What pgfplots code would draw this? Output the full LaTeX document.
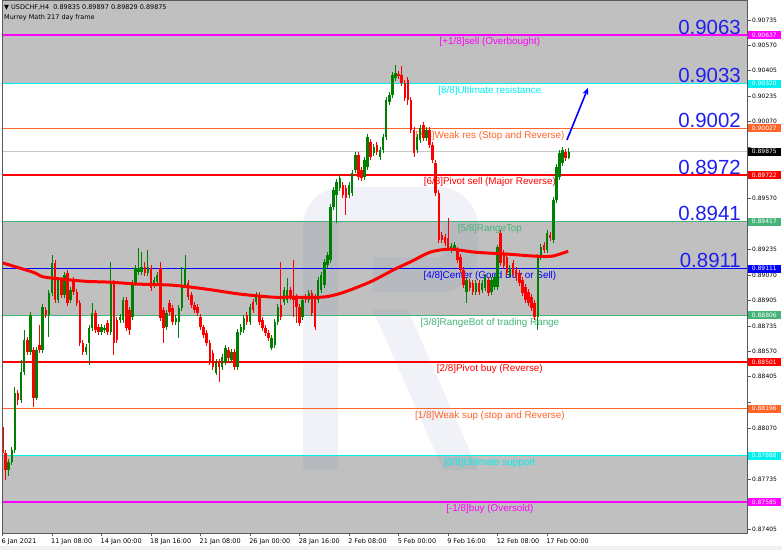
\documentclass[border=0pt]{standalone}
\usepackage{pgfplots}
\pgfplotsset{compat=1.18}
\usepackage{pgfplotstable}
\usepackage{fontspec}
\setmainfont{DejaVu Sans}
\newfontfamily\arialf{Liberation Sans}
\usetikzlibrary{arrows.meta}

\definecolor{cgreen}{RGB}{0,128,0}
\definecolor{cred}{RGB}{255,0,0}
\definecolor{silverbg}{RGB}{192,192,192}
\definecolor{lmag}{RGB}{255,0,255}
\definecolor{lcyan}{RGB}{0,240,240}
\definecolor{lorange}{RGB}{255,100,40}
\definecolor{lgreen}{RGB}{70,180,120}
\definecolor{lblue}{RGB}{0,0,255}
\definecolor{bignum}{RGB}{30,30,240}
\definecolor{wmark}{RGB}{90,120,170}

% H4 candles: bar index, open, high, low, close
\pgfplotstableread{
i o h l c
0 0.88076 0.88200 0.87893 0.87906
1 0.87906 0.87925 0.87729 0.87795
2 0.87795 0.87866 0.87755 0.87847
3 0.87847 0.87945 0.87827 0.87925
4 0.87925 0.88337 0.87906 0.88298
5 0.88298 0.88317 0.88219 0.88252
6 0.88252 0.88513 0.88232 0.88435
7 0.88435 0.88709 0.88415 0.88644
8 0.88644 0.88664 0.88546 0.88566
9 0.88566 0.88827 0.88546 0.88808
10 0.88579 0.88598 0.88206 0.88265
11 0.88265 0.88598 0.88252 0.88579
12 0.88611 0.88742 0.88559 0.88579
13 0.88579 0.88879 0.88559 0.88860
14 0.88840 0.88860 0.88788 0.88808
15 0.88808 0.88971 0.88664 0.88951
16 0.88951 0.89200 0.88932 0.89147
17 0.89147 0.89167 0.88886 0.88906
18 0.88906 0.89056 0.88886 0.89036
19 0.89036 0.89056 0.88919 0.88938
20 0.88938 0.89088 0.88919 0.89069
21 0.89082 0.89102 0.88866 0.88886
22 0.88906 0.88990 0.88886 0.88971
23 0.89036 0.89056 0.88938 0.88958
24 0.88958 0.88977 0.88866 0.88886
25 0.88886 0.88906 0.88605 0.88625
26 0.88625 0.88644 0.88546 0.88566
27 0.88566 0.88618 0.88546 0.88598
28 0.88625 0.88742 0.88481 0.88723
29 0.88723 0.88886 0.88703 0.88821
30 0.88821 0.88840 0.88690 0.88709
31 0.88729 0.88749 0.88677 0.88696
32 0.88696 0.88749 0.88677 0.88729
33 0.88709 0.88742 0.88690 0.88723
34 0.88755 0.88775 0.88677 0.88696
35 0.88696 0.89154 0.88677 0.89017
36 0.89017 0.89036 0.88546 0.88625
37 0.88775 0.88794 0.88625 0.88644
38 0.88775 0.88814 0.88755 0.88794
39 0.88775 0.88925 0.88755 0.88906
40 0.88906 0.88925 0.88703 0.88723
41 0.88840 0.88860 0.88677 0.88709
42 0.88794 0.89036 0.88775 0.89017
43 0.89017 0.89134 0.88997 0.89115
44 0.89088 0.89245 0.89069 0.89115
45 0.89088 0.89219 0.89069 0.89121
46 0.89121 0.89154 0.89062 0.89082
47 0.89082 0.89232 0.89062 0.89121
48 0.89115 0.89134 0.88964 0.88984
49 0.89004 0.89056 0.88984 0.89036
50 0.89023 0.89088 0.89004 0.89069
51 0.89115 0.89154 0.88768 0.88788
52 0.88840 0.88860 0.88625 0.88723
53 0.88729 0.88840 0.88709 0.88821
54 0.88886 0.88906 0.88808 0.88827
55 0.88853 0.88873 0.88742 0.88762
56 0.88762 0.88808 0.88742 0.88788
57 0.88762 0.88873 0.88657 0.88853
58 0.88853 0.89121 0.88834 0.89004
59 0.89004 0.89200 0.88984 0.89115
60 0.89017 0.89036 0.88906 0.88925
61 0.88938 0.88958 0.88853 0.88873
62 0.88873 0.88892 0.88821 0.88840
63 0.88860 0.88879 0.88801 0.88821
64 0.88794 0.88814 0.88709 0.88729
65 0.88729 0.88742 0.88657 0.88677
66 0.88690 0.88709 0.88605 0.88625
67 0.88625 0.88644 0.88481 0.88500
68 0.88559 0.88579 0.88448 0.88468
69 0.88428 0.88520 0.88415 0.88500
70 0.88500 0.88520 0.88370 0.88468
71 0.88468 0.88553 0.88448 0.88533
72 0.88500 0.88611 0.88481 0.88592
73 0.88579 0.88598 0.88507 0.88526
74 0.88513 0.88585 0.88494 0.88566
75 0.88566 0.88585 0.88448 0.88468
76 0.88468 0.88716 0.88448 0.88696
77 0.88696 0.88749 0.88677 0.88729
78 0.88709 0.88808 0.88690 0.88788
79 0.88808 0.88827 0.88742 0.88762
80 0.88762 0.88879 0.88742 0.88860
81 0.88892 0.88912 0.88821 0.88840
82 0.88892 0.88958 0.88873 0.88938
83 0.88938 0.88958 0.88742 0.88762
84 0.88775 0.88794 0.88703 0.88723
85 0.88723 0.88742 0.88670 0.88690
86 0.88690 0.88709 0.88638 0.88657
87 0.88592 0.88677 0.88579 0.88657
88 0.88611 0.88781 0.88592 0.88762
89 0.88762 0.88879 0.88742 0.88860
90 0.88873 0.89154 0.88775 0.88794
91 0.88892 0.88990 0.88873 0.88971
92 0.88906 0.89049 0.88886 0.88971
93 0.88971 0.88990 0.88906 0.88925
94 0.88925 0.89167 0.88794 0.88906
95 0.88925 0.88945 0.88755 0.88860
96 0.88860 0.88879 0.88736 0.88755
97 0.88794 0.88925 0.88775 0.88906
98 0.88925 0.88945 0.88886 0.88906
99 0.88906 0.88971 0.88886 0.88951
100 0.88951 0.88971 0.88801 0.88821
101 0.88925 0.88945 0.88709 0.88729
102 0.88906 0.89056 0.88886 0.89036
103 0.88971 0.89088 0.88951 0.89069
104 0.89004 0.89173 0.88984 0.89154
105 0.89134 0.89219 0.89115 0.89200
106 0.89167 0.89533 0.89147 0.89513
107 0.89513 0.89644 0.89494 0.89624
108 0.89592 0.89696 0.89409 0.89677
109 0.89637 0.89722 0.89618 0.89703
110 0.89657 0.89677 0.89572 0.89592
111 0.89637 0.89657 0.89461 0.89572
112 0.89592 0.89677 0.89572 0.89657
113 0.89605 0.89755 0.89585 0.89735
114 0.89755 0.89873 0.89735 0.89853
115 0.89853 0.89873 0.89690 0.89709
116 0.89755 0.89775 0.89683 0.89703
117 0.89709 0.89840 0.89690 0.89820
118 0.89775 0.89990 0.89755 0.89971
119 0.89938 0.89958 0.89820 0.89840
120 0.89866 0.89925 0.89847 0.89905
121 0.89918 0.89938 0.89853 0.89873
122 0.89840 0.89905 0.89820 0.89886
123 0.89886 0.89990 0.89866 0.89971
124 0.89971 0.90232 0.89951 0.90213
125 0.90199 0.90265 0.90180 0.90245
126 0.90245 0.90395 0.90226 0.90376
127 0.90356 0.90441 0.90337 0.90389
128 0.90382 0.90402 0.90350 0.90369
129 0.90376 0.90435 0.90304 0.90324
130 0.90324 0.90343 0.90206 0.90226
131 0.90343 0.90363 0.90180 0.90213
132 0.90213 0.90232 0.89997 0.90016
133 0.90016 0.90036 0.89840 0.89866
134 0.89886 0.89990 0.89866 0.89971
135 0.89951 0.90049 0.89932 0.90030
136 0.90049 0.90069 0.89945 0.89964
137 0.89964 0.90036 0.89945 0.90016
138 0.90016 0.90036 0.89899 0.89918
139 0.89918 0.89938 0.89801 0.89820
140 0.89801 0.89820 0.89585 0.89605
141 0.89605 0.89624 0.89278 0.89298
142 0.89330 0.89350 0.89278 0.89298
143 0.89317 0.89337 0.89258 0.89278
144 0.89311 0.89441 0.89226 0.89245
145 0.89232 0.89278 0.89213 0.89258
146 0.89245 0.89285 0.89226 0.89265
147 0.89232 0.89252 0.89147 0.89167
148 0.89187 0.89206 0.89082 0.89102
149 0.89102 0.89121 0.88984 0.89004
150 0.88958 0.89056 0.88886 0.89036
151 0.89023 0.89043 0.88964 0.88984
152 0.89017 0.89036 0.88938 0.88958
153 0.88958 0.89036 0.88938 0.89017
154 0.89017 0.89036 0.88938 0.88958
155 0.88971 0.89036 0.88951 0.89017
156 0.88984 0.89075 0.88964 0.89056
157 0.89036 0.89056 0.88932 0.88951
158 0.88958 0.89056 0.88938 0.89036
159 0.88990 0.89075 0.88971 0.89056
160 0.88990 0.89265 0.88971 0.89252
161 0.89343 0.89363 0.89128 0.89147
162 0.89213 0.89232 0.89108 0.89128
163 0.89187 0.89206 0.89062 0.89082
164 0.89069 0.89134 0.89049 0.89115
165 0.89147 0.89167 0.89062 0.89082
166 0.89102 0.89121 0.89030 0.89049
167 0.89082 0.89102 0.88997 0.89017
168 0.89036 0.89056 0.88932 0.88951
169 0.88990 0.89010 0.88886 0.88906
170 0.88958 0.88977 0.88866 0.88886
171 0.88925 0.88945 0.88834 0.88853
172 0.88886 0.88906 0.88775 0.88794
173 0.88794 0.89206 0.88709 0.89187
174 0.89187 0.89271 0.89167 0.89252
175 0.89265 0.89285 0.89213 0.89232
176 0.89232 0.89363 0.89213 0.89343
177 0.89330 0.89350 0.89291 0.89311
178 0.89298 0.89579 0.89278 0.89559
179 0.89559 0.89794 0.89539 0.89775
180 0.89709 0.89886 0.89690 0.89866
181 0.89801 0.89905 0.89781 0.89886
182 0.89873 0.89892 0.89814 0.89833
183 0.89835 0.89897 0.89829 0.89875
}\candles

\tikzset{
  lvl/.style={anchor=north, inner sep=0pt, yshift=-2.5bp, font=\arialf\fontsize{9.9}{11}\selectfont},
  big/.style={anchor=base east, inner sep=0pt, yshift=1bp, text=bignum, font=\arialf\fontsize{20.5}{22}\selectfont},
  pbox/.style={anchor=west, xshift=0.6bp, minimum width=33bp, minimum height=8bp, inner sep=0pt, text=white, font=\fontsize{6}{7}\selectfont},
}

\begin{document}
\begin{tikzpicture}[x=1bp,y=1bp]
\path[use as bounding box] (-2,-17) rectangle (780,533);
\fill[white] (-2,-17) rectangle (780,533);
\fill[black!6] (-2,-17) rectangle (780,-13.5);

\begin{axis}[
    at={(0,0)}, anchor=south west,
    scale only axis, width=745bp, height=533bp,
    xmin=-0.16, xmax=240.6,
    ymin=0.87383, ymax=0.90866,
    axis on top,
    axis line style={draw=black!65, line width=0.8bp},
    tick align=outside, major tick length=3.5bp,
    tick style={draw=black!65, line width=0.6bp},
    xtick pos=left, ytick pos=right, yticklabel pos=right,
    xtick={0,16,...,176},
    xticklabels={6 Jan 2021, 11 Jan 08:00, 14 Jan 00:00, 18 Jan 16:00, 21 Jan 08:00, 26 Jan 00:00, 28 Jan 16:00, 2 Feb 08:00, 5 Feb 00:00, 9 Feb 16:00, 12 Feb 08:00, 17 Feb 00:00},
    xticklabel style={font=\fontsize{6.5}{7}\selectfont, anchor=north west, inner sep=0pt, xshift=-1bp, yshift=-1.5bp},
    ytick={0.90735,0.90570,0.90405,0.90235,0.90070,0.89905,0.89740,0.89570,0.89400,0.89235,0.89070,0.88905,0.88735,0.88570,0.88405,0.88235,0.88070,0.87905,0.87735,0.87570,0.87405},
    yticklabels={0.90735,0.90570,0.90405,0.90235,0.90070,,,0.89570,,0.89235,0.89070,0.88905,0.88735,0.88570,0.88405,,0.88070,,0.87735,,0.87405},
    yticklabel style={font=\fontsize{6}{7}\selectfont, anchor=west, inner sep=0pt, xshift=1.5bp},
]

% Murrey bands
\fill[silverbg] (axis cs:-1,0.9100) rectangle (axis cs:241,0.90320);
\fill[silverbg] (axis cs:-1,0.89417) rectangle (axis cs:241,0.88806);
\fill[silverbg] (axis cs:-1,0.87888) rectangle (axis cs:241,0.8700);

% faint broker watermark
\draw[wmark, opacity=0.09, line width=35bp, rounded corners=22bp]
    (axis cs:102.8,0.87795) -- (axis cs:102.8,0.89530) -- (axis cs:148.0,0.89530)
    -- (axis cs:148.0,0.89069) -- (axis cs:119.7,0.89069);
\fill[wmark, opacity=0.09] (axis cs:119.7,0.88840) -- (axis cs:131.0,0.88840)
    -- (axis cs:153.7,0.87795) -- (axis cs:142.4,0.87795) -- cycle;

% current price line
\draw[black!22, line width=0.7bp] (axis cs:-1,0.89875) -- (axis cs:241,0.89875);

% Murrey levels
\draw[lmag, line width=1.5bp] (axis cs:-1,0.90637) -- (axis cs:241,0.90637);
\draw[lcyan, line width=1.5bp] (axis cs:-1,0.90320) -- (axis cs:241,0.90320);
\draw[lorange, line width=1.4bp] (axis cs:-1,0.90027) -- (axis cs:241,0.90027);
\draw[cred, line width=1.4bp] (axis cs:-1,0.89722) -- (axis cs:241,0.89722);
\draw[lgreen, line width=1.4bp] (axis cs:-1,0.89417) -- (axis cs:241,0.89417);
\draw[lblue, line width=1.4bp] (axis cs:-1,0.89111) -- (axis cs:241,0.89111);
\draw[lgreen, line width=1.4bp] (axis cs:-1,0.88806) -- (axis cs:241,0.88806);
\draw[cred, line width=1.4bp] (axis cs:-1,0.88501) -- (axis cs:241,0.88501);
\draw[lorange, line width=1.4bp] (axis cs:-1,0.88196) -- (axis cs:241,0.88196);
\draw[lcyan, line width=1.5bp] (axis cs:-1,0.87888) -- (axis cs:241,0.87888);
\draw[lmag, line width=1.5bp] (axis cs:-1,0.87585) -- (axis cs:241,0.87585);

\node[lvl, text=lmag] at (axis cs:157.5,0.90637) {[+1/8]sell (Overbought)};
\node[lvl, text=lcyan] at (axis cs:157.5,0.90320) {[8/8]Ultimate resistance};
\node[lvl, text=lorange] at (axis cs:157.5,0.90027) {[7/8]Weak res (Stop and Reverse)};
\node[lvl, text=cred] at (axis cs:157.5,0.89722) {[6/8]Pivot sell (Major Reverse)};
\node[lvl, text=lgreen] at (axis cs:157.5,0.89417) {[5/8]RangeTop};
\node[lvl, text=lblue] at (axis cs:157.5,0.89111) {[4/8]Center (Good Buy or Sell)};
\node[lvl, text=lgreen] at (axis cs:157.5,0.88806) {[3/8]RangeBot of trading Range};
\node[lvl, text=cred] at (axis cs:157.5,0.88501) {[2/8]Pivot buy (Reverse)};
\node[lvl, text=lorange] at (axis cs:157.5,0.88196) {[1/8]Weak sup (stop and Reverse)};
\node[lvl, text=lcyan] at (axis cs:157.5,0.87888) {[0/8]Ultimate support};
\node[lvl, text=lmag] at (axis cs:157.5,0.87585) {[-1/8]buy (Oversold)};

\node[big] at (axis cs:238.66,0.90637) {0.9063};
\node[big] at (axis cs:238.66,0.90320) {0.9033};
\node[big] at (axis cs:238.66,0.90027) {0.9002};
\node[big] at (axis cs:238.66,0.89722) {0.8972};
\node[big] at (axis cs:238.66,0.89417) {0.8941};
\node[big] at (axis cs:238.66,0.89111) {0.8911};

% up candles: wicks, bodies
\addplot[draw=none, mark=none, forget plot, restrict y to domain=0.8:1,
    error bars/.cd, y dir=both, y explicit, error mark=none,
    error bar style={draw=cgreen, line width=1bp}]
    table[x=i, y expr={\thisrow{c}>\thisrow{o} ? (\thisrow{h}+\thisrow{l})/2 : 0},
          y error expr={(\thisrow{h}-\thisrow{l})/2}] {\candles};
\addplot[draw=none, mark=none, forget plot, restrict y to domain=0.8:1,
    error bars/.cd, y dir=both, y explicit, error mark=none,
    error bar style={draw=cgreen, line width=2.5bp}]
    table[x=i, y expr={\thisrow{c}>\thisrow{o} ? (\thisrow{o}+\thisrow{c})/2 : 0},
          y error expr={max(abs(\thisrow{c}-\thisrow{o})/2,0.00003)}] {\candles};
% down candles
\addplot[draw=none, mark=none, forget plot, restrict y to domain=0.8:1,
    error bars/.cd, y dir=both, y explicit, error mark=none,
    error bar style={draw=cred, line width=1bp}]
    table[x=i, y expr={\thisrow{c}>\thisrow{o} ? 0 : (\thisrow{h}+\thisrow{l})/2},
          y error expr={(\thisrow{h}-\thisrow{l})/2}] {\candles};
\addplot[draw=none, mark=none, forget plot, restrict y to domain=0.8:1,
    error bars/.cd, y dir=both, y explicit, error mark=none,
    error bar style={draw=cred, line width=2.5bp}]
    table[x=i, y expr={\thisrow{c}>\thisrow{o} ? 0 : (\thisrow{o}+\thisrow{c})/2},
          y error expr={max(abs(\thisrow{c}-\thisrow{o})/2,0.00003)}] {\candles};

% moving average
\addplot[cred, line width=3bp, mark=none, smooth, forget plot] coordinates {
    (-0.8,0.89153) (9.9,0.89087) (13.7,0.89055) (26.0,0.89029) (34.7,0.89022)
    (44.4,0.89009) (55.1,0.89002) (66.1,0.88976) (76.8,0.88944) (87.4,0.88924)
    (92.9,0.88924) (103.2,0.88924) (108.4,0.88944) (113.0,0.88976) (119.4,0.89029)
    (126.8,0.89107) (132.3,0.89159) (138.2,0.89218) (144.6,0.89238) (152.7,0.89218)
    (163.4,0.89205) (172.1,0.89192) (177.6,0.89192) (182.8,0.89224)
};

% forecast arrow
\draw[-{Stealth[length=7bp,width=6bp]}, line width=1.6bp, color=lblue]
    (axis cs:182.4,0.89951) -- (axis cs:189.2,0.90291);

\coordinate (p1) at (axis cs:240.6,0.90637);
\coordinate (p2) at (axis cs:240.6,0.90320);
\coordinate (p3) at (axis cs:240.6,0.90027);
\coordinate (pc) at (axis cs:240.6,0.89875);
\coordinate (p4) at (axis cs:240.6,0.89722);
\coordinate (p5) at (axis cs:240.6,0.89417);
\coordinate (p6) at (axis cs:240.6,0.89111);
\coordinate (p7) at (axis cs:240.6,0.88806);
\coordinate (p8) at (axis cs:240.6,0.88501);
\coordinate (p9) at (axis cs:240.6,0.88196);
\coordinate (p10) at (axis cs:240.6,0.87888);
\coordinate (p11) at (axis cs:240.6,0.87585);
\end{axis}

% price tags on the right scale
\node[pbox, fill=lmag] at (p1) {0.90637};
\node[pbox, fill=lcyan] at (p2) {0.90320};
\node[pbox, fill=lorange] at (p3) {0.90027};
\node[pbox, fill=black] at (pc) {0.89875};
\node[pbox, fill=cred] at (p4) {0.89722};
\node[pbox, fill=lgreen] at (p5) {0.89417};
\node[pbox, fill=lblue] at (p6) {0.89111};
\node[pbox, fill=lgreen] at (p7) {0.88806};
\node[pbox, fill=cred] at (p8) {0.88501};
\node[pbox, fill=lorange] at (p9) {0.88196};
\node[pbox, fill=lcyan] at (p10) {0.87888};
\node[pbox, fill=lmag] at (p11) {0.87585};

% header
\node[anchor=base west, inner sep=0pt, font=\fontsize{6.5}{7}\selectfont] at (2,523.5)
    {▼ USDCHF,H4\ \ 0.89835 0.89897 0.89829 0.89875};
\node[anchor=base west, inner sep=0pt, font=\fontsize{6.5}{7}\selectfont] at (2,513.5)
    {Murrey Math 217 day frame};
\end{tikzpicture}
\end{document}
